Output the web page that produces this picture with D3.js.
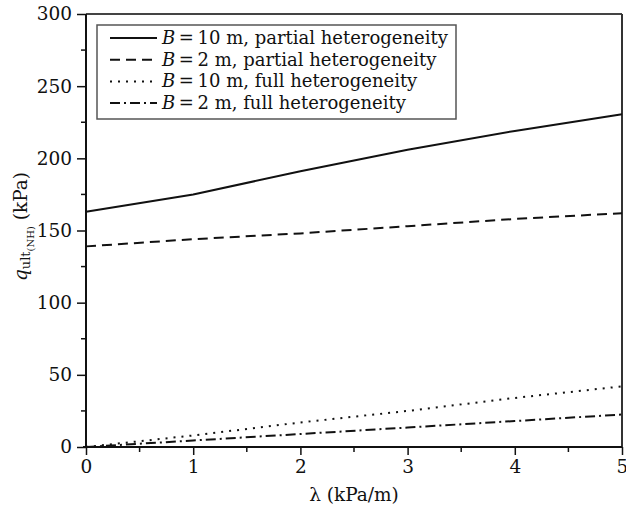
<!DOCTYPE html>
<html>
<head>
<meta charset="utf-8">
<script src="https://cdn.jsdelivr.net/npm/d3@7"></script>
<style>
  body { margin: 0; background: #fff; }
  text { font-family: "DejaVu Serif", serif; fill: #111; }
</style>
</head>
<body>
<svg id="chart" width="626" height="509"></svg>
<script>
var lambdas = [0, 1, 2, 3, 4, 5]
var b10Partial = [163, 175, 191, 206, 219, 230.5]
var b2Partial = [139, 144, 148, 153, 158, 162]
var b10Full = [0, 8, 17, 25, 34, 42]
var b2Full = [0, 4.5, 9, 13.5, 18, 22.5]

var xTicks = [0, 1, 2, 3, 4, 5]
var yTicks = [0, 50, 100, 150, 200, 250, 300]

var seriesList = [
  { label: ' m, partial heterogeneity', b: '10', values: b10Partial, dash: null },
  { label: ' m, partial heterogeneity', b: '2', values: b2Partial, dash: '10,6' },
  { label: ' m, full heterogeneity', b: '10', values: b10Full, dash: '2,6' },
  { label: ' m, full heterogeneity', b: '2', values: b2Full, dash: '10,4,2,4' }
]

var margin = { left: 86, right: 4, top: 14, bottom: 62 }
var svg = d3.select('#chart')
  , width = +svg.attr('width') - margin.left - margin.right
  , height = +svg.attr('height') - margin.top - margin.bottom

var x = d3.scaleLinear().domain([0, 5]).range([0, width])
var y = d3.scaleLinear().domain([0, 300]).range([height, 0])

var g = svg.append('g').attr('transform', 'translate(' + margin.left + ',' + margin.top + ')')

// minor ticks
var minorX = d3.range(0.5, 5, 1)
var minorY = d3.range(25, 300, 50)

g.selectAll('line.minx').data(minorX).enter().append('line')
  .attr('x1', d => x(d)).attr('x2', d => x(d))
  .attr('y1', height).attr('y2', height + 5)
  .attr('stroke', '#111').attr('stroke-width', 1.5)
g.selectAll('line.miny').data(minorY).enter().append('line')
  .attr('x1', -5).attr('x2', 0)
  .attr('y1', d => y(d)).attr('y2', d => y(d))
  .attr('stroke', '#111').attr('stroke-width', 1.5)

var xAxis = g.append('g').attr('transform', 'translate(0,' + height + ')')
  .call(d3.axisBottom(x).tickValues(xTicks).tickSize(8).tickPadding(5).tickFormat(d3.format('d')))
var yAxis = g.append('g')
  .call(d3.axisLeft(y).tickValues(yTicks).tickSize(9).tickPadding(5).tickFormat(d3.format('d')))

;[xAxis, yAxis].forEach(function(a) {
  a.select('.domain').remove()
  a.selectAll('line').attr('stroke', '#111').attr('stroke-width', 1.5)
  a.selectAll('text').style('font-family', '"DejaVu Serif", serif').style('font-size', '18.5px').attr('fill', '#111')
})

// frame
g.append('line').attr('x1', 0).attr('x2', width).attr('y1', 0).attr('y2', 0)
  .attr('stroke', '#444').attr('stroke-width', 2)
g.append('line').attr('x1', width).attr('x2', width).attr('y1', 0).attr('y2', height)
  .attr('stroke', '#333').attr('stroke-width', 2)
g.append('line').attr('x1', 0).attr('x2', 0).attr('y1', 0).attr('y2', height)
  .attr('stroke', '#111').attr('stroke-width', 2)
g.append('line').attr('x1', -3).attr('x2', width).attr('y1', height).attr('y2', height)
  .attr('stroke', '#111').attr('stroke-width', 2)

var line = d3.line()
  .x(function(d, i) { return x(lambdas[i]) })
  .y(function(d) { return y(d) })

g.selectAll('path.series').data(seriesList).enter().append('path')
  .attr('class', 'series')
  .attr('d', s => line(s.values))
  .attr('fill', 'none')
  .attr('stroke', '#111')
  .attr('stroke-width', 2)
  .attr('stroke-dasharray', s => s.dash)

// legend
var legend = svg.append('g').attr('transform', 'translate(97,25)')
legend.append('rect').attr('width', 359).attr('height', 94)
  .attr('fill', '#fff').attr('stroke', '#555').attr('stroke-width', 1.5)

var rows = legend.selectAll('g.row').data(seriesList).enter().append('g')
  .attr('transform', (d, i) => 'translate(0,' + (13 + i * 21.7) + ')')
rows.append('line').attr('x1', 13).attr('x2', 60).attr('y1', 0).attr('y2', 0)
  .attr('stroke', '#111').attr('stroke-width', 2)
  .attr('stroke-dasharray', s => s.dash)
var txt = rows.append('text').attr('x', 65).attr('y', 6).style('font-size', '18px')
txt.append('tspan').style('font-style', 'italic').text('B')
txt.append('tspan').text(s => '\u2009=\u2009' + s.b + s.label)

// axis titles
svg.append('text').attr('x', margin.left + width / 2).attr('y', 501)
  .attr('text-anchor', 'middle').style('font-size', '18.5px')
  .text('\u03bb (kPa/m)')

var yt = svg.append('text')
  .attr('transform', 'translate(27,' + (margin.top + height / 2 - 4) + ') rotate(-90)')
  .attr('text-anchor', 'middle').style('font-size', '18.5px')
yt.append('tspan').style('font-style', 'italic').text('q')
yt.append('tspan').attr('dy', 3).style('font-size', '13px').text('ult')
yt.append('tspan').attr('dy', 4).style('font-size', '10px').text('(NH)')
yt.append('tspan').attr('dy', -7).text(' (kPa)')
</script>
</body>
</html>
